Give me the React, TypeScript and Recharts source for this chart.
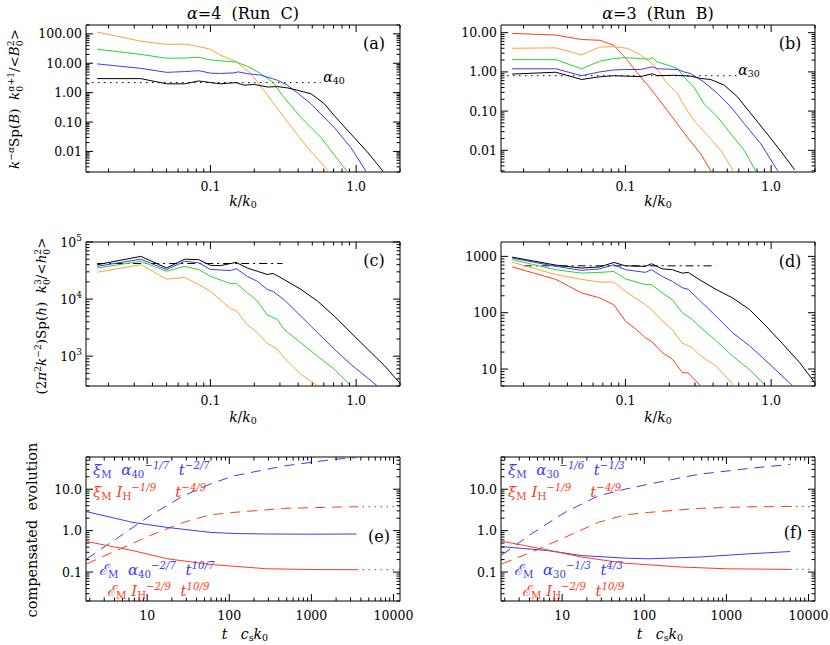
import React from 'react';
import { LineChart, Line, XAxis, YAxis, ReferenceArea } from 'recharts';

type Pt = [number, number];

const SERIF = '"DejaVu Serif", "Liberation Serif", serif';
const BLACK = '#000000';
const BLUE = '#3b3bf5';
const GREEN = '#2bd42b';
const ORANGE = '#ffa23a';
const RED = '#ff3d1e';

// (a) alpha=4, Run C: compensated magnetic spectra [k/k0, value]
const aOrange: Pt[] = [[0.0167, 115], [0.0333, 56], [0.05, 44], [0.0667, 45], [0.0833, 37], [0.1, 30], [0.117, 19], [0.15, 11.4], [0.189, 4.5], [0.252, 0.71], [0.347, 0.085], [0.465, 0.0133], [0.66, 0.0019]];
const aGreen: Pt[] = [[0.0167, 30], [0.0333, 20], [0.05, 14.8], [0.0667, 15], [0.0833, 16], [0.1, 13], [0.12, 12], [0.15, 11], [0.18, 7.8], [0.221, 4.5], [0.27, 2.2], [0.312, 0.8], [0.418, 0.144], [0.574, 0.0295], [0.88, 0.0019]];
const aBlue: Pt[] = [[0.0167, 9.5], [0.0333, 6.7], [0.05, 4.9], [0.0667, 5.2], [0.0833, 5.6], [0.1, 4.6], [0.117, 4.5], [0.145, 4.7], [0.155, 5.1], [0.18, 4.4], [0.221, 3.95], [0.266, 3.0], [0.288, 2.65], [0.338, 1.79], [0.376, 1.2], [0.489, 0.42], [0.708, 0.065], [0.922, 0.0133], [1.17, 0.0021]];
const aBlack: Pt[] = [[0.0167, 3.0], [0.0333, 3.0], [0.05, 2.0], [0.0667, 2.0], [0.0833, 2.5], [0.1, 2.2], [0.117, 2.0], [0.15, 2.2], [0.17, 1.8], [0.2, 1.9], [0.246, 1.56], [0.29, 1.6], [0.338, 1.45], [0.396, 1.2], [0.489, 0.92], [0.605, 0.42], [0.708, 0.165], [0.922, 0.039], [1.21, 0.0089], [1.53, 0.0021]];
const aAlpha: Pt[] = [[0.014, 2.2], [0.57, 2.2]];

// (b) alpha=3, Run B
const bRed: Pt[] = [[0.0167, 9.6], [0.0333, 8.7], [0.05, 6.7], [0.0667, 6.4], [0.083, 4.8], [0.103, 2.0], [0.127, 0.74], [0.149, 0.375], [0.194, 0.104], [0.266, 0.0215], [0.329, 0.0081], [0.39, 0.0028]];
const bOrange: Pt[] = [[0.0167, 4.0], [0.0333, 4.1], [0.05, 2.7], [0.0667, 4.3], [0.083, 4.4], [0.103, 4.0], [0.127, 2.7], [0.157, 1.5], [0.194, 0.5], [0.228, 0.28], [0.252, 0.14], [0.295, 0.058], [0.366, 0.024], [0.451, 0.01], [0.56, 0.0027]];
const bGreen: Pt[] = [[0.0167, 2.05], [0.0333, 2.05], [0.05, 1.2], [0.0667, 1.87], [0.083, 2.2], [0.1, 2.3], [0.127, 2.2], [0.145, 2.1], [0.153, 2.35], [0.165, 1.8], [0.194, 1.5], [0.228, 1.22], [0.252, 0.74], [0.295, 0.41], [0.346, 0.155], [0.43, 0.07], [0.53, 0.026], [0.654, 0.01], [0.79, 0.0028]];
const bBlue: Pt[] = [[0.0167, 1.2], [0.0333, 1.2], [0.05, 0.8], [0.0667, 1.0], [0.083, 1.12], [0.1, 1.15], [0.127, 1.15], [0.153, 1.35], [0.165, 1.2], [0.228, 1.15], [0.252, 1.0], [0.28, 0.91], [0.346, 0.55], [0.43, 0.28], [0.53, 0.127], [0.654, 0.048], [0.85, 0.0146], [1.11, 0.003]];
const bBlack: Pt[] = [[0.0167, 0.88], [0.0333, 0.98], [0.05, 0.64], [0.0667, 0.75], [0.083, 0.8], [0.1, 0.78], [0.127, 0.76], [0.153, 0.9], [0.165, 0.8], [0.215, 0.82], [0.28, 0.78], [0.329, 0.68], [0.385, 0.64], [0.476, 0.46], [0.588, 0.23], [0.727, 0.086], [0.9, 0.032], [1.11, 0.012], [1.45, 0.0032]];
const bAlpha: Pt[] = [[0.014, 0.8], [0.59, 0.8]];

// (c) helicity spectra, Run C
const cBlack: Pt[] = [[0.0167, 40000], [0.0333, 56000], [0.05, 35000], [0.0667, 50000], [0.0833, 49000], [0.1, 39000], [0.117, 38500], [0.15, 44000], [0.179, 35000], [0.21, 30700], [0.245, 27000], [0.27, 28000], [0.32, 22000], [0.418, 14800], [0.544, 9200], [0.71, 5000], [0.922, 2570], [1.2, 1320], [1.57, 675], [2.04, 316]];
const cBlue: Pt[] = [[0.0167, 37500], [0.0333, 50000], [0.05, 32800], [0.0667, 46000], [0.0833, 43000], [0.1, 33000], [0.137, 31600], [0.151, 34000], [0.179, 25000], [0.21, 20500], [0.245, 14800], [0.27, 13500], [0.32, 9800], [0.418, 5000], [0.544, 2570], [0.71, 1320], [0.922, 715], [1.4, 300]];
const cGreen: Pt[] = [[0.0167, 35000], [0.0333, 46000], [0.05, 30700], [0.0667, 37500], [0.0833, 32800], [0.1, 25000], [0.137, 18700], [0.151, 18700], [0.179, 12900], [0.21, 9200], [0.245, 5300], [0.288, 4400], [0.32, 2950], [0.418, 1700], [0.544, 1000], [0.71, 590], [0.922, 300]];
const cOrange: Pt[] = [[0.0167, 29500], [0.0333, 40000], [0.05, 22400], [0.0667, 24000], [0.0833, 17900], [0.1, 13700], [0.137, 6800], [0.151, 6300], [0.179, 3560], [0.21, 2570], [0.245, 1700], [0.288, 1320], [0.32, 940], [0.418, 480], [0.55, 300]];
const cRef: Pt[] = [[0.0167, 42000], [0.312, 42000]];

// (d) helicity spectra, Run B
const dBlack: Pt[] = [[0.0167, 970], [0.0333, 700], [0.05, 620], [0.0667, 650], [0.0833, 780], [0.1, 680], [0.137, 665], [0.151, 740], [0.179, 600], [0.21, 580], [0.245, 505], [0.27, 520], [0.32, 390], [0.418, 260], [0.544, 183], [0.71, 114], [0.922, 58], [1.2, 28], [1.57, 13], [2.04, 5.3]];
const dBlue: Pt[] = [[0.0167, 935], [0.0333, 665], [0.05, 565], [0.0667, 600], [0.0833, 710], [0.1, 580], [0.137, 520], [0.151, 580], [0.179, 440], [0.21, 360], [0.245, 278], [0.27, 260], [0.32, 170], [0.418, 87], [0.544, 44], [0.71, 26], [0.922, 14], [1.41, 5]];
const dGreen: Pt[] = [[0.0167, 875], [0.0333, 580], [0.05, 505], [0.0667, 520], [0.0833, 540], [0.1, 398], [0.137, 316], [0.151, 316], [0.179, 225], [0.21, 170], [0.245, 100], [0.288, 76], [0.32, 58], [0.418, 32], [0.544, 17], [0.71, 9.8], [0.922, 5]];
const dOrange: Pt[] = [[0.0167, 790], [0.0333, 475], [0.05, 390], [0.0667, 350], [0.0833, 350], [0.1, 240], [0.137, 139], [0.151, 114], [0.179, 71], [0.21, 50], [0.245, 29], [0.288, 24], [0.32, 18], [0.418, 11.3], [0.56, 5]];
const dRed: Pt[] = [[0.0167, 650], [0.0333, 390], [0.05, 225], [0.0667, 183], [0.0833, 138], [0.1, 71], [0.117, 52], [0.137, 36], [0.151, 31], [0.179, 19.6], [0.21, 15], [0.245, 8.7], [0.27, 8.5], [0.33, 5]];
const dRef: Pt[] = [[0.02, 680], [0.417, 680]];

// (e) compensated evolution, Run C [t cs k0, value]
const eXiBlue: Pt[] = [[1.85, 0.21], [4.2, 0.63], [10.8, 2.29], [27.5, 6.9], [58, 13.2], [112, 20.9], [457, 36.3], [1860, 52.5], [3550, 58]];
const eXiRed: Pt[] = [[1.85, 0.158], [4.2, 0.33], [10.8, 0.76], [27.5, 1.58], [58, 2.4], [112, 2.75], [457, 3.44], [1860, 3.7], [3550, 3.77]];
const eEBlue: Pt[] = [[1.85, 2.86], [6.7, 1.58], [17.3, 1.2], [58, 0.91], [120, 0.85], [286, 0.83], [1000, 0.82], [3550, 0.83]];
const eERed: Pt[] = [[1.85, 0.545], [6.7, 0.33], [17.3, 0.21], [58, 0.153], [286, 0.12], [1000, 0.115], [3550, 0.114]];
const eDotHi: Pt[] = [[3550, 3.77], [12000, 3.77]];
const eDotLo: Pt[] = [[3550, 0.114], [12000, 0.114]];

// (f) compensated evolution, Run B
const fXiBlue: Pt[] = [[1.85, 0.26], [4.2, 0.83], [10.8, 2.75], [27.5, 6.9], [58, 10], [112, 13.2], [457, 22.9], [1860, 31.6], [5980, 39.8]];
const fXiRed: Pt[] = [[1.85, 0.158], [4.2, 0.3], [10.8, 0.69], [27.5, 1.58], [58, 2.4], [112, 2.75], [457, 3.44], [1860, 3.77], [5980, 3.84]];
const fEBlue: Pt[] = [[1.85, 0.41], [6.7, 0.33], [17.3, 0.25], [58, 0.217], [112, 0.209], [457, 0.23], [1860, 0.275], [5980, 0.313]];
const fERed: Pt[] = [[1.85, 0.555], [6.7, 0.34], [17.3, 0.23], [58, 0.164], [286, 0.132], [1000, 0.12], [5980, 0.116]];
const fDotHi: Pt[] = [[5980, 3.84], [12000, 3.84]];
const fDotLo: Pt[] = [[5980, 0.116], [12000, 0.116]];

// axes
const kDomain: [number, number] = [0.014, 2.0];
const tDomain: [number, number] = [1.8, 12000];
const kMajor = [0.1, 1];
const kLabels = ['0.1', '1.0'];
const tMajor = [10, 100, 1000, 10000];
const tLabels = ['10', '100', '1000', '10000'];
const aYMajor = [0.01, 0.1, 1, 10, 100];
const aYLabels = ['0.01', '0.10', '1.00', '10.00', '100.00'];
const bYMajor = [0.01, 0.1, 1, 10];
const bYLabels = ['0.01', '0.10', '1.00', '10.00'];
const cYMajor = [1000, 10000, 100000];
const cYLabels = ['3', '4', '5'];
const dYMajor = [10, 100, 1000];
const dYLabels = ['10', '100', '1000'];
const efYMajor = [0.1, 1, 10];
const efYLabels = ['0.1', '1.0', '10.0'];

const CW = 415;
const CH = 215;
const YW = 86;
const MR = 15;

function logTicks(lo: number, hi: number): number[] {
  const out: number[] = [];
  for (let e = Math.floor(Math.log10(lo)); e <= Math.ceil(Math.log10(hi)); e++) {
    for (let m = 1; m <= 9; m++) {
      const v = Number((m * Math.pow(10, e)).toPrecision(8));
      if (v >= lo && v <= hi) out.push(v);
    }
  }
  return out;
}
const near = (a: number, b: number) => Math.abs(a - b) <= Math.abs(b) * 1e-6;
const rows = (pts: Pt[]) => pts.map(([k, v]) => ({ k, v }));

interface Series {
  data: Pt[];
  color: string;
  dash?: string;
}

interface PanelProps {
  left: number;
  top: number;
  mt: number;
  xh: number;
  xDomain: [number, number];
  yDomain: [number, number];
  xMajor: number[];
  xLabels: string[];
  yMajor: number[];
  yLabels: string[];
  yPow?: boolean;
  series: Series[];
}

function Panel(p: PanelProps) {
  const plotTop = p.mt;
  const plotBottom = CH - p.xh;
  const plotLeft = YW;
  const plotRight = CW - MR;

  const XTick = (props: any) => {
    const { x, payload } = props;
    const i = p.xMajor.findIndex((m) => near(payload.value, m));
    const len = i >= 0 ? 7 : 3.5;
    return (
      <g>
        <line x1={x} x2={x} y1={plotBottom} y2={plotBottom - len} stroke="#000" />
        <line x1={x} x2={x} y1={plotTop} y2={plotTop + len} stroke="#000" />
        {i >= 0 && (
          <text x={x} y={plotBottom + 19} textAnchor="middle" fontFamily={SERIF} fontSize={12.5} fill="#000">
            {p.xLabels[i]}
          </text>
        )}
      </g>
    );
  };

  const YTick = (props: any) => {
    const { y, payload } = props;
    const i = p.yMajor.findIndex((m) => near(payload.value, m));
    const len = i >= 0 ? 7 : 3.5;
    return (
      <g>
        <line x1={plotLeft} x2={plotLeft + len} y1={y} y2={y} stroke="#000" />
        <line x1={plotRight} x2={plotRight - len} y1={y} y2={y} stroke="#000" />
        {i >= 0 && (
          <text x={plotLeft - 4} y={y + 4.5} textAnchor="end" fontFamily={SERIF} fontSize={12.5} fill="#000">
            {p.yPow ? (
              <>
                10
                <tspan dy={-6} fontSize={9}>
                  {p.yLabels[i]}
                </tspan>
              </>
            ) : (
              p.yLabels[i]
            )}
          </text>
        )}
      </g>
    );
  };

  return (
    <div style={{ position: 'absolute', left: p.left, top: p.top }}>
      <LineChart width={CW} height={CH} margin={{ top: p.mt, right: MR, bottom: 0, left: 0 }}>
        <XAxis
          dataKey="k"
          type="number"
          scale="log"
          domain={p.xDomain}
          allowDataOverflow
          ticks={logTicks(p.xDomain[0], p.xDomain[1])}
          interval={0}
          tick={XTick}
          tickLine={false}
          axisLine={false}
          height={p.xh}
        />
        <YAxis
          type="number"
          scale="log"
          domain={p.yDomain}
          allowDataOverflow
          ticks={logTicks(p.yDomain[0], p.yDomain[1])}
          interval={0}
          tick={YTick}
          tickLine={false}
          axisLine={false}
          width={YW}
        />
        <ReferenceArea
          x1={p.xDomain[0]}
          x2={p.xDomain[1]}
          y1={p.yDomain[0]}
          y2={p.yDomain[1]}
          fill="none"
          stroke="#000"
          strokeWidth={1}
          ifOverflow="visible"
        />
        {p.series.map((s, i) => (
          <Line
            key={i}
            data={rows(s.data)}
            dataKey="v"
            type="linear"
            stroke={s.color}
            strokeWidth={1}
            strokeDasharray={s.dash}
            dot={false}
            activeDot={false}
            isAnimationActive={false}
          />
        ))}
      </LineChart>
    </div>
  );
}

const Sup = ({ children }: { children: React.ReactNode }) => (
  <span style={{ fontSize: '0.68em', verticalAlign: '0.55em', lineHeight: 0 }}>{children}</span>
);
const Sub = ({ children }: { children: React.ReactNode }) => (
  <span style={{ fontSize: '0.68em', verticalAlign: '-0.3em', lineHeight: 0, fontStyle: 'normal' }}>{children}</span>
);
const SS = ({ sup, sub }: { sup: React.ReactNode; sub: React.ReactNode }) => (
  <span
    style={{
      display: 'inline-block',
      fontSize: '0.68em',
      lineHeight: 1.0,
      verticalAlign: '-0.45em',
      textAlign: 'left',
    }}
  >
    <span style={{ display: 'block' }}>{sup}</span>
    <span style={{ display: 'block', fontStyle: 'normal' }}>{sub}</span>
  </span>
);

function Txt(props: {
  x: number;
  y: number;
  size?: number;
  color?: string;
  center?: boolean;
  rotate?: boolean;
  italic?: boolean;
  children: React.ReactNode;
}) {
  const tr = props.rotate ? 'translate(-50%, -50%) rotate(-90deg)' : props.center ? 'translate(-50%, -50%)' : 'none';
  return (
    <div
      style={{
        position: 'absolute',
        left: props.x,
        top: props.y,
        transform: tr,
        fontFamily: SERIF,
        fontSize: props.size ?? 14,
        color: props.color ?? '#000',
        whiteSpace: 'pre',
        lineHeight: 1.2,
        fontStyle: props.italic ? 'italic' : 'normal',
      }}
    >
      {props.children}
    </div>
  );
}

const I = ({ children }: { children: React.ReactNode }) => <i>{children}</i>;

export default function App() {
  const row1 = { mt: 25, xh: 43 };
  const row2 = { mt: 27, xh: 44 };
  const row3 = { mt: 27, xh: 44 };
  return (
    <div style={{ position: 'relative', width: 830, height: 645, background: '#fff', overflow: 'hidden' }}>
      <style>{'body{margin:0}'}</style>
      <Panel left={0} top={0} {...row1} xDomain={kDomain} yDomain={[0.002, 200]} xMajor={kMajor} xLabels={kLabels} yMajor={aYMajor} yLabels={aYLabels}
        series={[
          { data: aAlpha, color: BLACK, dash: '1.5 4.5' },
          { data: aOrange, color: ORANGE },
          { data: aGreen, color: GREEN },
          { data: aBlue, color: BLUE },
          { data: aBlack, color: BLACK },
        ]}
      />
      <Panel left={415} top={0} {...row1} xDomain={kDomain} yDomain={[0.0028, 15.7]} xMajor={kMajor} xLabels={kLabels} yMajor={bYMajor} yLabels={bYLabels}
        series={[
          { data: bAlpha, color: BLACK, dash: '1.5 4.5' },
          { data: bRed, color: RED },
          { data: bOrange, color: ORANGE },
          { data: bGreen, color: GREEN },
          { data: bBlue, color: BLUE },
          { data: bBlack, color: BLACK },
        ]}
      />
      <Panel left={0} top={215} {...row2} xDomain={kDomain} yDomain={[300, 100000]} xMajor={kMajor} xLabels={kLabels} yMajor={cYMajor} yLabels={cYLabels} yPow
        series={[
          { data: cRef, color: BLACK, dash: '8 4 2 4' },
          { data: cOrange, color: ORANGE },
          { data: cGreen, color: GREEN },
          { data: cBlue, color: BLUE },
          { data: cBlack, color: BLACK },
        ]}
      />
      <Panel left={415} top={215} {...row2} xDomain={kDomain} yDomain={[5, 1800]} xMajor={kMajor} xLabels={kLabels} yMajor={dYMajor} yLabels={dYLabels}
        series={[
          { data: dRef, color: BLACK, dash: '8 4 2 4' },
          { data: dRed, color: RED },
          { data: dOrange, color: ORANGE },
          { data: dGreen, color: GREEN },
          { data: dBlue, color: BLUE },
          { data: dBlack, color: BLACK },
        ]}
      />
      <Panel left={0} top={430} {...row3} xDomain={tDomain} yDomain={[0.02, 60]} xMajor={tMajor} xLabels={tLabels} yMajor={efYMajor} yLabels={efYLabels}
        series={[
          { data: eDotHi, color: '#555', dash: '1.5 4.5' },
          { data: eDotLo, color: '#555', dash: '1.5 4.5' },
          { data: eXiBlue, color: BLUE, dash: '10 7' },
          { data: eXiRed, color: RED, dash: '10 7' },
          { data: eEBlue, color: BLUE },
          { data: eERed, color: RED },
        ]}
      />
      <Panel left={415} top={430} {...row3} xDomain={tDomain} yDomain={[0.02, 60]} xMajor={tMajor} xLabels={tLabels} yMajor={efYMajor} yLabels={efYLabels}
        series={[
          { data: fDotHi, color: '#555', dash: '1.5 4.5' },
          { data: fDotLo, color: '#555', dash: '1.5 4.5' },
          { data: fXiBlue, color: BLUE, dash: '10 7' },
          { data: fXiRed, color: RED, dash: '10 7' },
          { data: fEBlue, color: BLUE },
          { data: fERed, color: RED },
        ]}
      />

      {/* titles */}
      <Txt x={243} y={14} size={16} center>
        <I>α</I>=4  (Run  C)
      </Txt>
      <Txt x={658} y={14} size={16} center>
        <I>α</I>=3  (Run  B)
      </Txt>

      {/* axis titles */}
      <Txt x={15} y={99} size={13.5} rotate>
        <I>k</I>
        <Sup>
          −<I>α</I>
        </Sup>
        Sp(<I>B</I>)  <I>k</I>
        <SS sup={<I>α</I>} sub="0" />
        <Sup>+1</Sup>/&lt;<I>B</I>
        <SS sup="2" sub="0" />
        &gt;
      </Txt>
      <Txt x={42} y={316} size={13.5} rotate>
        (2<I>π</I>
        <Sup>2</Sup>
        <I>k</I>
        <Sup>−2</Sup>)Sp(<I>h</I>)  <I>k</I>
        <SS sup="3" sub="0" />
        /&lt;<I>h</I>
        <SS sup="2" sub="0" />
        &gt;
      </Txt>
      <Txt x={33} y={530} size={14.5} rotate>
        compensated  evolution
      </Txt>
      {[243, 658].map((cx) => (
        <Txt key={'k1' + cx} x={cx} y={201} size={14} center>
          <I>k</I>/<I>k</I>
          <Sub>0</Sub>
        </Txt>
      ))}
      {[243, 658].map((cx) => (
        <Txt key={'k2' + cx} x={cx} y={417} size={14} center>
          <I>k</I>/<I>k</I>
          <Sub>0</Sub>
        </Txt>
      ))}
      {[245, 660].map((cx) => (
        <Txt key={'t' + cx} x={cx} y={634} size={14} center>
          <I>t</I>   <I>c</I>
          <Sub>s</Sub>
          <I>k</I>
          <Sub>0</Sub>
        </Txt>
      ))}

      {/* panel letters */}
      <Txt x={374} y={44} size={16} center>(a)</Txt>
      <Txt x={790} y={44} size={16} center>(b)</Txt>
      <Txt x={374} y={261} size={16} center>(c)</Txt>
      <Txt x={790} y={262} size={16} center>(d)</Txt>
      <Txt x={379} y={537} size={16} center>(e)</Txt>
      <Txt x={793} y={533} size={16} center>(f)</Txt>

      {/* alpha labels */}
      <Txt x={334} y={77} size={14} center>
        <I>α</I>
        <Sub>40</Sub>
      </Txt>
      <Txt x={749} y={70} size={14} center>
        <I>α</I>
        <Sub>30</Sub>
      </Txt>

      {/* (e) annotations */}
      <Txt x={93} y={461} size={15} color={BLUE} italic>
        ξ<Sub>M</Sub>  α<Sub>40</Sub>
        <Sup>−1/7</Sup>  t<Sup>−2/7</Sup>
      </Txt>
      <Txt x={93} y={483} size={15} color={RED} italic>
        ξ<Sub>M</Sub> I<Sub>H</Sub>
        <Sup>−1/9</Sup>    t<Sup>−4/9</Sup>
      </Txt>
      <Txt x={99} y={561} size={15} color={BLUE} italic>
        ℰ<Sub>M</Sub>  α<Sub>40</Sub>
        <Sup>−2/7</Sup>  t<Sup>10/7</Sup>
      </Txt>
      <Txt x={107} y={582} size={15} color={RED} italic>
        ℰ<Sub>M</Sub> I<Sub>H</Sub>
        <Sup>−2/9</Sup>  t<Sup>10/9</Sup>
      </Txt>

      {/* (f) annotations */}
      <Txt x={508} y={461} size={15} color={BLUE} italic>
        ξ<Sub>M</Sub>  α<Sub>30</Sub>
        <Sup>−1/6</Sup>  t<Sup>−1/3</Sup>
      </Txt>
      <Txt x={508} y={483} size={15} color={RED} italic>
        ξ<Sub>M</Sub> I<Sub>H</Sub>
        <Sup>−1/9</Sup>    t<Sup>−4/9</Sup>
      </Txt>
      <Txt x={514} y={561} size={15} color={BLUE} italic>
        ℰ<Sub>M</Sub>  α<Sub>30</Sub>
        <Sup>−1/3</Sup>  t<Sup>4/3</Sup>
      </Txt>
      <Txt x={522} y={582} size={15} color={RED} italic>
        ℰ<Sub>M</Sub> I<Sub>H</Sub>
        <Sup>−2/9</Sup>  t<Sup>10/9</Sup>
      </Txt>
    </div>
  );
}
